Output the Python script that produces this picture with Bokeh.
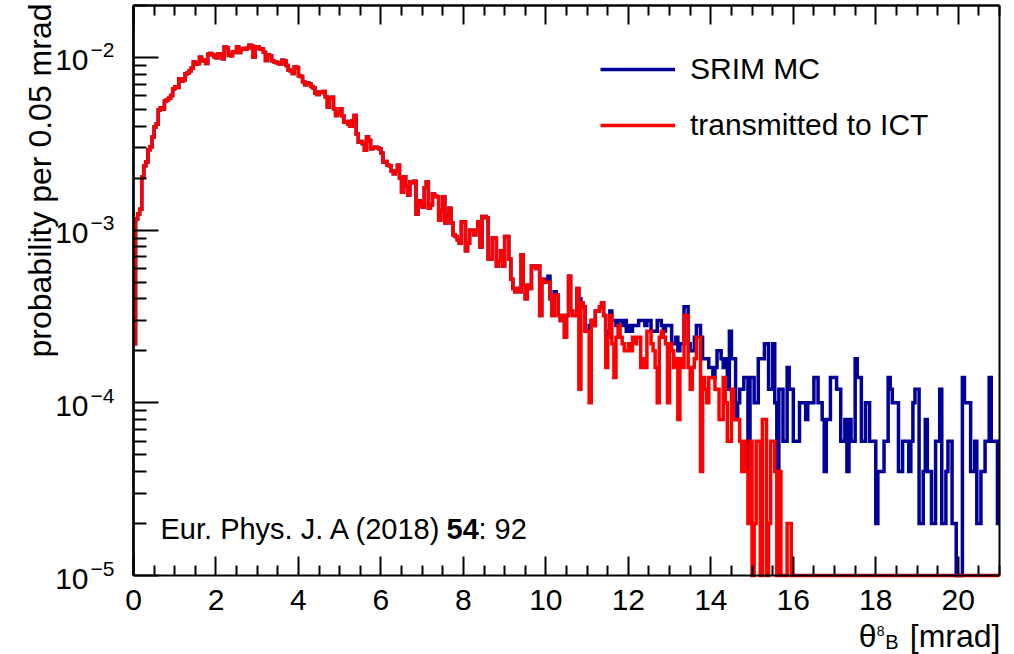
import numpy as np
from bokeh.plotting import figure
from bokeh.models import (Range1d, FixedTicker, LinearAxis, LogAxis,
                          Legend, LegendItem, Label)
from bokeh.embed import file_html
from bokeh.resources import INLINE

# ---------------------------------------------------------------------------
# Histogram of the 8B scattering angle behind the target, 0.05 mrad bins.
# Counts per bin out of N_EVENTS simulated ions, shown as probability per bin.
# ---------------------------------------------------------------------------
BIN_WIDTH = 0.05          # mrad
N_EVENTS = 50000
X_MAX = 21.0
Y_MIN, Y_MAX = 1e-5, 2e-2

x_major_ticks = [0, 2, 4, 6, 8, 10, 12, 14, 16, 18, 20]
x_minor_ticks = [0.5 * k for k in range(43) if k % 4]
y_major_ticks = [1e-5, 1e-4, 1e-3, 1e-2]
y_minor_ticks = [m * 10.0 ** e for e in range(-5, -1) for m in range(2, 10)]

# all simulated ions (SRIM Monte Carlo)
srim_counts = [
    11, 58, 62, 66, 102, 118, 124, 146, 152, 173,
    198, 206, 248, 256, 251, 280, 284, 290, 301, 328,
    338, 335, 377, 366, 370, 401, 406, 419, 433, 470,
    458, 462, 502, 478, 484, 461, 522, 528, 519, 505,
    499, 526, 523, 492, 575, 570, 515, 512, 540, 534,
    576, 535, 560, 563, 558, 565, 588, 585, 502, 572,
    577, 562, 559, 536, 481, 516, 512, 479, 472, 468,
    461, 458, 482, 477, 450, 423, 419, 404, 442, 437,
    392, 388, 362, 347, 356, 352, 339, 334, 310, 305,
    316, 313, 318, 296, 258, 290, 294, 252, 231, 240,
    252, 230, 211, 213, 205, 200, 215, 231, 180, 162,
    163, 158, 145, 173, 165, 148, 150, 151, 150, 148,
    140, 124, 125, 119, 118, 110, 106, 110, 119, 100,
    83, 102, 90, 80, 95, 94, 96, 62, 74, 72,
    68, 88, 95, 67, 70, 81, 79, 78, 57, 65,
    78, 55, 60, 67, 55, 47, 46, 44, 42, 56,
    56, 38, 42, 50, 50, 47, 50, 56, 40, 60,
    60, 59, 34, 34, 45, 45, 31, 33, 38, 31,
    46, 46, 34, 26, 23, 22, 23, 22, 36, 24,
    20, 24, 23, 31, 31, 30, 31, 16, 26, 25,
    26, 27, 20, 16, 22, 21, 16, 15, 16, 12,
    16, 27, 17, 16, 16, 23, 20, 19, 18, 13,
    13, 14, 15, 14, 17, 17, 18, 19, 16, 13,
    12, 17, 15, 15, 14, 15, 15, 14, 15, 13,
    14, 13, 14, 14, 14, 15, 15, 15, 14, 15,
    15, 13, 13, 13, 15, 15, 14, 13, 14, 14,
    14, 11, 11, 12, 10, 11, 11, 18, 18, 11,
    10, 10, 12, 14, 14, 12, 9, 9, 9, 8,
    8, 7, 8, 10, 10, 9, 8, 9, 6, 13,
    9, 9, 4, 5, 6, 6, 7, 7, 2, 7,
    7, 5, 5, 9, 9, 9, 11, 11, 6, 6,
    11, 5, 2, 6, 6, 3, 3, 8, 6, 6,
    3, 3, 3, 5, 5, 5, 4, 5, 5, 5,
    7, 7, 5, 5, 4, 2, 4, 4, 7, 7,
    7, 6, 6, 3, 3, 4, 2, 4, 3, 3,
    9, 7, 7, 3, 3, 5, 5, 3, 3, 3,
    1, 2, 2, 2, 3, 3, 7, 6, 5, 5,
    5, 2, 2, 3, 3, 3, 2, 3, 5, 6,
    6, 1, 1, 2, 4, 2, 2, 1, 1, 3,
    3, 6, 1, 1, 2, 3, 3, 1, 1, 0,
    0, 0, 7, 5, 5, 5, 2, 2, 3, 1,
    1, 2, 2, 3, 3, 7, 3, 3, 3, 1,
]

# ions that are transmitted to the ionization chamber (ICT)
ict_counts = [
    11, 58, 62, 66, 102, 118, 124, 146, 152, 173,
    198, 206, 248, 256, 251, 280, 284, 290, 301, 328,
    338, 335, 377, 366, 370, 401, 406, 419, 433, 470,
    458, 462, 502, 478, 484, 461, 522, 528, 519, 505,
    499, 526, 523, 492, 575, 570, 515, 512, 540, 534,
    576, 535, 560, 563, 558, 565, 588, 585, 502, 572,
    577, 562, 559, 536, 481, 516, 512, 479, 472, 468,
    461, 458, 482, 477, 450, 423, 419, 404, 442, 437,
    392, 388, 362, 347, 356, 352, 339, 334, 310, 305,
    316, 313, 318, 296, 258, 290, 294, 252, 231, 240,
    252, 230, 211, 213, 205, 200, 215, 231, 180, 162,
    163, 158, 145, 173, 165, 148, 150, 151, 150, 148,
    140, 124, 125, 119, 118, 110, 106, 110, 119, 100,
    83, 102, 90, 80, 95, 94, 96, 62, 74, 72,
    68, 88, 95, 67, 70, 81, 79, 78, 57, 65,
    78, 55, 60, 67, 55, 47, 46, 44, 42, 56,
    56, 38, 42, 50, 50, 47, 50, 56, 40, 60,
    60, 59, 34, 34, 45, 45, 31, 33, 38, 31,
    46, 46, 34, 26, 23, 22, 23, 22, 36, 24,
    20, 24, 23, 31, 31, 30, 31, 16, 26, 25,
    25, 25, 20, 16, 21, 21, 16, 15, 16, 12,
    16, 27, 17, 16, 16, 23, 6, 19, 18, 13,
    13, 5, 15, 14, 17, 17, 18, 19, 16, 8,
    12, 16, 11, 7, 12, 14, 12, 11, 10, 10,
    11, 10, 12, 11, 12, 12, 8, 9, 8, 13,
    13, 11, 10, 8, 5, 12, 13, 12, 11, 5,
    11, 10, 8, 9, 4, 9, 8, 16, 16, 8,
    6, 8, 9, 12, 12, 2, 7, 6, 5, 7,
    7, 7, 6, 6, 4, 4, 7, 5, 3, 3,
    6, 4, 4, 4, 3, 2, 3, 2, 1, 3,
    0, 1, 3, 3, 0, 4, 4, 0, 1, 3,
    3, 2, 0, 2, 0, 0, 0, 1, 1, 0,
    0, 0, 0, 0, 0, 0, 0, 0, 0, 0,
    0, 0, 0, 0, 0, 0, 0, 0, 0, 0,
    0, 0, 0, 0, 0, 0, 0, 0, 0, 0,
    0, 0, 0, 0, 0, 0, 0, 0, 0, 0,
    0, 0, 0, 0, 0, 0, 0, 0, 0, 0,
    0, 0, 0, 0, 0, 0, 0, 0, 0, 0,
    0, 0, 0, 0, 0, 0, 0, 0, 0, 0,
    0, 0, 0, 0, 0, 0, 0, 0, 0, 0,
    0, 0, 0, 0, 0, 0, 0, 0, 0, 0,
    0, 0, 0, 0, 0, 0, 0, 0, 0, 0,
]

series_labels = ["SRIM MC", "transmitted to ICT"]
series_colors = ["#000099", "#ff0000"]
citation_parts = ["Eur. Phys. J. A (2018) ", "54", ": 92"]
y_title = "probability per 0.05 mrad"

FONT = "Liberation Sans"

# page geometry (pixels): the axes box inside a 1014 x 654 canvas
W, H = 1014, 654
BOX_L, BOX_R, BOX_T, BOX_B = 133, 999, 5, 575

# the plotting frame covers the whole canvas; axes sit at fixed positions
px_per_mrad = (BOX_R - BOX_L) / X_MAX
px_per_dec = (BOX_B - BOX_T) / (np.log10(Y_MAX) - np.log10(Y_MIN))
x_lo = -BOX_L / px_per_mrad
x_hi = X_MAX + (W - BOX_R) / px_per_mrad
y_lo = 10 ** (np.log10(Y_MIN) - (H - BOX_B) / px_per_dec)
y_hi = 10 ** (np.log10(Y_MAX) + BOX_T / px_per_dec)

edges = np.arange(len(srim_counts) + 1) * BIN_WIDTH


def step_values(counts):
    """Probability per bin; empty bins fall to the bottom of the log axis."""
    prob = np.asarray(counts, dtype=float) / N_EVENTS
    prob = np.where(prob > 0, prob, Y_MIN)
    return np.append(prob, prob[-1])


p = figure(width=W, height=H,
           x_range=Range1d(x_lo, x_hi), y_range=Range1d(y_lo, y_hi),
           y_axis_type="log", output_backend="svg", toolbar_location=None,
           min_border=0, min_border_left=0, min_border_right=0,
           min_border_top=0, min_border_bottom=0)
p.xgrid.visible = False
p.ygrid.visible = False
p.outline_line_color = None
p.background_fill_color = "white"
p.border_fill_color = "white"

renderers = []
for counts, color in zip([srim_counts, ict_counts], series_colors):
    r = p.step(edges, step_values(counts), mode="after",
               line_color=color, line_width=3.5, line_join="miter")
    renderers.append(r)

# bottom axis: labelled major ticks, inward ticks
xa = p.xaxis[0]
xa.fixed_location = Y_MIN
xa.bounds = (0, X_MAX)
xa.ticker = FixedTicker(ticks=x_major_ticks, minor_ticks=x_minor_ticks)
xa.major_tick_in, xa.major_tick_out = 19, 0
xa.minor_tick_in, xa.minor_tick_out = 10, 0
xa.major_tick_line_width = 2
xa.minor_tick_line_width = 2
xa.axis_line_width = 2
xa.major_label_text_font = FONT
xa.major_label_text_font_size = "30px"
xa.major_label_text_color = "black"
xa.major_label_standoff = 14

# left axis line at x = 0 (tick marks come from the tick-only axes below)
ya = p.yaxis[0]
ya.fixed_location = 0
ya.bounds = (Y_MIN, Y_MAX)
ya.ticker = FixedTicker(ticks=[], minor_ticks=[])
ya.axis_line_width = 2
ya.major_tick_line_color = None
ya.minor_tick_line_color = None


def tick_only_axis(cls, place, loc, bounds, positions, length):
    """An axis drawing only unlabelled inward tick marks at fixed positions."""
    ax = cls(ticker=FixedTicker(ticks=[], minor_ticks=positions),
             fixed_location=loc, bounds=bounds,
             major_tick_in=0, major_tick_out=0,
             minor_tick_in=length, minor_tick_out=0,
             minor_tick_line_width=2, axis_line_width=2,
             axis_line_color="black", minor_tick_line_color="black")
    p.add_layout(ax, place)
    return ax


# y ticks on the left axis
tick_only_axis(LogAxis, "left", 0, (Y_MIN, Y_MAX), y_major_ticks, 25)
tick_only_axis(LogAxis, "left", 0, (Y_MIN, Y_MAX), y_minor_ticks, 13)
# mirrored x ticks along the top edge
tick_only_axis(LinearAxis, "above", Y_MAX, (0, X_MAX), x_major_ticks, 19)
tick_only_axis(LinearAxis, "above", Y_MAX, (0, X_MAX), x_minor_ticks, 10)
# right edge of the box, no ticks
tick_only_axis(LogAxis, "right", X_MAX, (Y_MIN, Y_MAX), [], 0)

# decade labels 10^n on the y axis
for t in y_major_ticks:
    e = int(round(np.log10(t)))
    p.add_layout(Label(x=0, y=t, text="10", x_offset=-45, y_offset=-3,
                       text_align="right", text_baseline="middle",
                       text_font=FONT, text_font_size="30px", text_color="black"))
    p.add_layout(Label(x=0, y=t, text="\u2212%d" % abs(e), x_offset=-43, y_offset=7,
                       text_align="left", text_baseline="middle",
                       text_font=FONT, text_font_size="21px", text_color="black"))

# y title, aligned to the top of the axis
p.add_layout(Label(x=0, y=Y_MAX, text=y_title, angle=np.pi / 2,
                   x_offset=-94, y_offset=2,
                   text_align="right", text_baseline="middle",
                   text_font=FONT, text_font_size="32px", text_color="black"))

# x title: theta with subscript 8B, right-aligned to the axis end
xt = [("[mrad]", "32px", 1, -60),
      ("B", "20px", -101, -66),
      ("8", "14px", -115, -55),
      ("\u03b8", "32px", -123, -60)]
for txt, size, dx, dy in xt:
    p.add_layout(Label(x=X_MAX, y=Y_MIN, text=txt, x_offset=dx, y_offset=dy,
                       text_align="right", text_baseline="alphabetic",
                       text_font=FONT, text_font_size=size, text_color="black"))

# citation
cit_offsets = [0, 286, 318]
cit_styles = ["normal", "bold", "normal"]
for txt, dx, st in zip(citation_parts, cit_offsets, cit_styles):
    p.add_layout(Label(x=0, y=Y_MIN, text=txt, x_offset=27 + dx, y_offset=47,
                       text_align="left", text_baseline="alphabetic",
                       text_font=FONT, text_font_size="29px", text_font_style=st,
                       text_color="black"))

legend = Legend(items=[LegendItem(label=lab, renderers=[r])
                       for lab, r in zip(series_labels, renderers)],
                location=(600, 512), orientation="vertical",
                glyph_width=75, glyph_height=30, label_height=30,
                label_standoff=15, spacing=22, padding=0, margin=0,
                label_text_font=FONT, label_text_font_size="30px",
                label_text_color="black",
                border_line_alpha=0, background_fill_alpha=0)
p.add_layout(legend)

open("out.html", "w").write(file_html(p, INLINE))
